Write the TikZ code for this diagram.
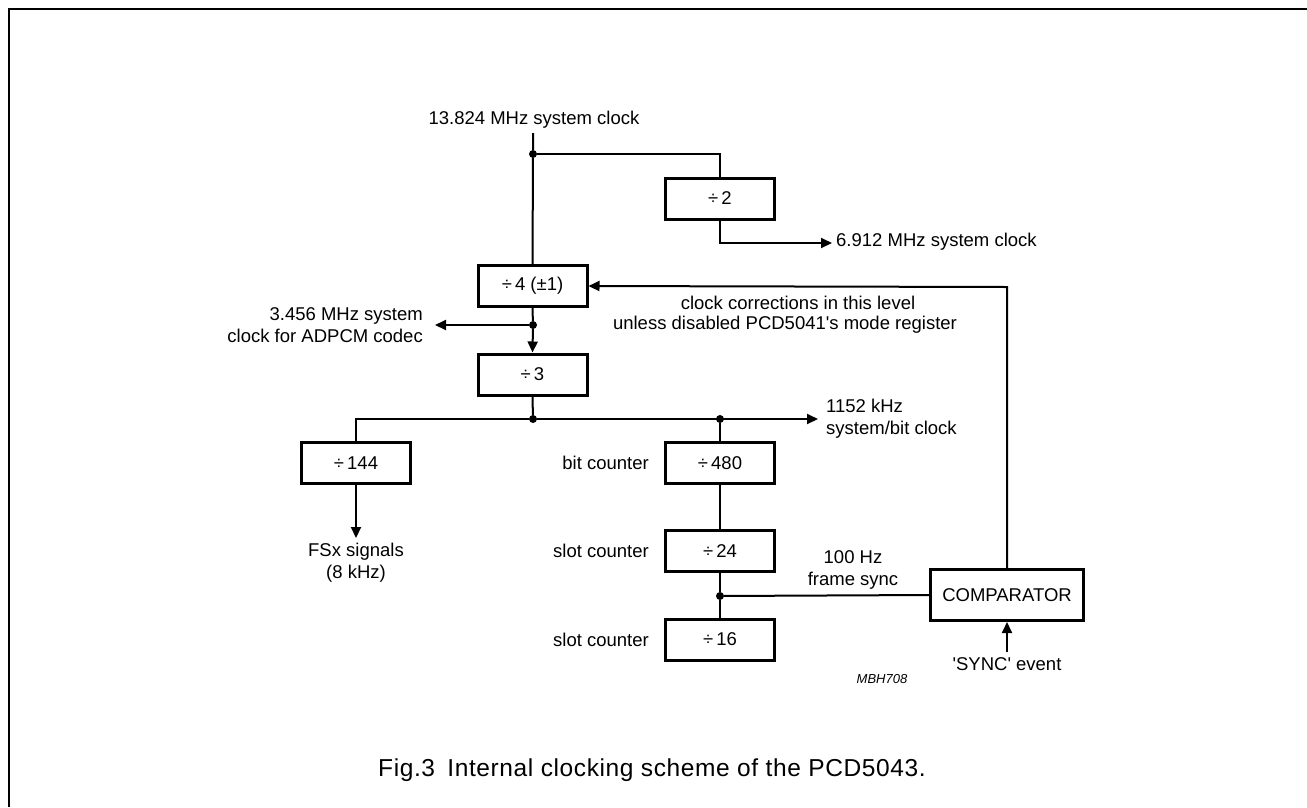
\documentclass[tikz,border=0pt]{standalone}
\usepackage{fontspec}
\setmainfont{Liberation Sans}
\newfontfamily\capfont[LetterSpace=2.5]{Liberation Sans}
\usetikzlibrary{arrows.meta}
\begin{document}
\begin{tikzpicture}[x=1pt,y=-1pt,
  font=\fontsize{18.5}{22}\selectfont,
  blk/.style={draw,line width=3pt,inner sep=0pt,minimum width=109pt,minimum height=41pt},
  wire/.style={line width=2pt},
  arr/.style={wire,-{Triangle[length=11pt,width=10pt]}},
  dot/.style={circle,fill,inner sep=0pt,minimum size=8pt},
  lbl/.style={inner sep=0pt}]
\useasboundingbox (0,0) rectangle (1307,807);
\draw[line width=2.5pt] (9,807) -- (9,9) -- (1307,9);

% blocks
\node[blk] (d2) at (720,198.5) {÷\,2};
\node[blk] (d4) at (532.5,286) {÷\,4 (±1)};
\node[blk] (d3) at (532.5,374.5) {÷\,3};
\node[blk] (d144) at (356,463) {÷\,144};
\node[blk] (d480) at (720,463) {÷\,480};
\node[blk] (d24) at (720,551) {÷\,24};
\node[blk] (d16) at (720,639.5) {÷\,16};
\node[blk,minimum width=153pt,minimum height=51pt] (comp) at (1007,595) {COMPARATOR};

% junctions
\node[dot] (j1) at (533,154) {};
\node[dot] (j2) at (533,325) {};
\node[dot] (j3) at (533,419) {};
\node[dot] (j4) at (720,419) {};
\node[dot] (j5) at (720,596) {};

\coordinate (top) at (533,133);
\coordinate (o2) at (832,243);
\coordinate (o3) at (435,325);
\coordinate (o1152) at (818,419);
\coordinate (c144) at (356,419);
\coordinate (ofs) at (356,538);
\coordinate (fb) at (1007,287);
\coordinate (sync) at (1007,652);

% labels
\node[lbl] (l1) at (534,120) {13.824 MHz system clock};
\node[lbl,anchor=west] (l2) at (836,242) {6.912 MHz system clock};
\node[lbl,align=right,anchor=east] (l3) at (423,325) {3.456 MHz system\\clock for ADPCM codec};
\node[lbl] (l4a) at (798,303) {clock corrections in this level};
\node[lbl] (l4b) at (785,325) {unless disabled PCD5041\textquotesingle s mode register};
\node[lbl,align=left,anchor=west] (l5) at (826,419) {1152 kHz\\system/bit clock};
\node[lbl,align=center] (l6) at (356,563) {FSx signals\\(8 kHz)};
\node[lbl,anchor=east] (l7) at (649,463) {bit counter};
\node[lbl,anchor=east] (l8) at (649,551) {slot counter};
\node[lbl,anchor=east] (l9) at (649,640) {slot counter};
\node[lbl,align=center] (l10) at (853,570) {100 Hz\\frame sync};
\node[lbl] (l11) at (1007,664) {\textquotesingle SYNC\textquotesingle\ event};
\node[lbl,font=\fontsize{13}{15}\selectfont\itshape] (l12) at (882,679) {MBH708};
\node[lbl,anchor=west,font=\capfont\fontsize{24.5}{27}\selectfont] (cap) at (378,770) {Fig.3\enspace Internal clocking scheme of the PCD5043.};

% connectors
\draw[wire] (top) -- (j1) -- (d4.north);
\draw[wire] (j1) -| (d2.north);
\draw[arr] (d2.south) |- (o2);
\draw[arr] (comp.north) -- (fb) -- (d4.east);
\draw[wire] (d4.south) -- (j2);
\draw[arr] (j2) -- (o3);
\draw[arr] (j2) -- (d3.north);
\draw[wire] (d3.south) -- (j3);
\draw[wire] (d144.north) -- (c144) -- (j3);
\draw[arr] (j3) -- (o1152);
\draw[arr] (d144.south) -- (ofs);
\draw[wire] (j4) -- (d480.north);
\draw[wire] (d480.south) -- (d24.north);
\draw[wire] (d24.south) -- (j5) -- (d16.north);
\draw[wire] (j5) -- (comp.west);
\draw[arr] (sync) -- (comp.south);
\end{tikzpicture}
\end{document}
